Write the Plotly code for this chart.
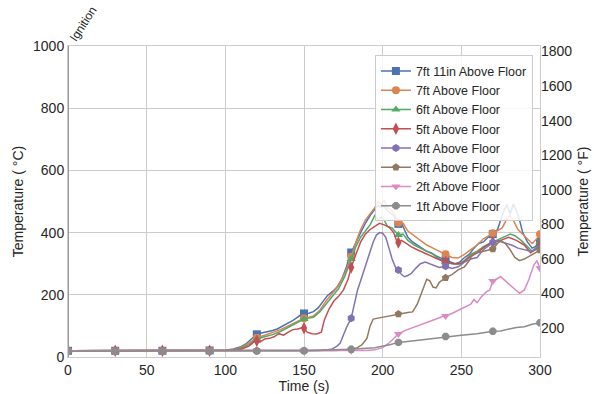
import plotly.graph_objects as go

# ---- data (time in s, temperature in °C) ----
names = ["7ft 11in Above Floor", "7ft Above Floor", "6ft Above Floor", "5ft Above Floor",
         "4ft Above Floor", "3ft Above Floor", "2ft Above Floor", "1ft Above Floor"]

t_7ft11 = [0, 30, 60, 90, 100, 105, 110, 113, 116, 118, 120, 123, 126, 130, 133, 136, 140, 143, 146, 148, 150,
           153, 156, 159, 162, 165, 168, 171, 174, 177, 179, 180, 183, 186, 189, 192, 195, 197, 199, 201, 203,
           205, 207, 209, 210, 212, 214, 216, 219, 222, 225, 228, 231, 234, 237, 240, 243, 246, 249, 252, 255,
           258, 261, 264, 267, 270, 273, 275, 277, 279, 281, 283, 285, 287, 289, 292, 295, 297, 300]
T_7ft11 = [20, 20, 20, 21, 22, 26, 33, 42, 55, 66, 73, 77, 80, 85, 90, 98, 108, 118, 128, 136, 140,
           141, 146, 158, 178, 198, 210, 225, 250, 290, 325, 336, 370, 400, 430, 455, 475, 488, 480, 485, 470,
           462, 455, 432, 428, 430, 410, 385, 370, 360, 350, 340, 335, 325, 318, 312, 305, 300, 305, 320, 330,
           350, 365, 370, 385, 395, 410, 440, 470, 490, 460, 492, 470, 440, 400, 370, 350, 355, 370]

t_7ft = [0, 30, 60, 90, 100, 105, 110, 115, 118, 120, 125, 130, 135, 140, 145, 150, 153, 156, 160, 164, 168,
         172, 176, 179, 180, 183, 186, 189, 192, 195, 197, 199, 201, 203, 206, 209, 210, 213, 216, 220, 224,
         228, 232, 236, 240, 244, 248, 252, 256, 260, 264, 268, 270, 273, 276, 279, 281, 283, 286, 289, 292,
         295, 298, 300]
T_7ft = [20, 20, 20, 21, 22, 24, 30, 45, 55, 62, 70, 78, 88, 100, 112, 125, 128, 132, 150, 180, 205,
         230, 270, 310, 322, 370, 410, 440, 460, 480, 500, 490, 505, 480, 470, 445, 432, 430, 405, 390, 375,
         360, 350, 340, 330, 320, 318, 330, 345, 360, 380, 392, 398, 405, 415, 445, 455, 440, 410, 395, 380,
         365, 380, 395]

t_6ft = [0, 30, 60, 90, 100, 105, 110, 115, 120, 125, 130, 135, 140, 145, 150, 153, 156, 160, 164, 168, 172,
         176, 179, 180, 183, 186, 189, 192, 195, 197, 199, 201, 203, 206, 209, 210, 213, 216, 220, 224, 228,
         232, 236, 240, 244, 248, 252, 256, 260, 264, 268, 270, 274, 278, 281, 284, 288, 292, 295, 298, 300]
T_6ft = [20, 20, 20, 21, 22, 23, 28, 40, 58, 65, 72, 82, 95, 110, 122, 125, 128, 145, 170, 195, 220,
         260, 300, 315, 355, 385, 405, 425, 455, 440, 450, 440, 420, 415, 398, 392, 395, 375, 360, 350, 340,
         330, 315, 305, 300, 298, 310, 330, 340, 355, 365, 370, 380, 390, 395, 390, 375, 355, 340, 355, 370]

t_5ft = [0, 30, 60, 90, 100, 105, 110, 115, 118, 120, 122, 125, 128, 131, 134, 137, 140, 143, 146, 149, 150,
         152, 155, 158, 161, 163, 166, 169, 172, 175, 178, 180, 183, 186, 189, 192, 195, 198, 201, 204, 207,
         209, 210, 212, 215, 218, 222, 226, 230, 235, 240, 245, 250, 255, 260, 265, 270, 275, 280, 285, 290,
         294, 297, 300]
T_5ft = [20, 20, 20, 20, 21, 22, 25, 35, 48, 52, 48, 58, 60, 65, 75, 70, 80, 88, 90, 95, 93,
         80, 75, 74, 80, 120, 155, 180, 195, 215, 250, 288, 330, 370, 395, 410, 420, 430, 425, 418, 400,
         372, 368, 375, 365, 355, 345, 335, 325, 315, 305, 300, 300, 320, 335, 355, 370, 375, 385, 375, 360,
         335, 345, 360]

t_4ft = [0, 30, 60, 90, 120, 150, 160, 165, 168, 171, 173, 175, 177, 180, 182, 184, 186, 188, 190, 192, 194,
         196, 198, 200, 202, 204, 206, 208, 210, 212, 214, 216, 218, 221, 224, 227, 230, 233, 236, 240, 244,
         248, 252, 256, 260, 264, 268, 270, 274, 278, 282, 286, 290, 294, 297, 300]
T_4ft = [20, 20, 20, 20, 20, 20, 21, 23, 26, 35, 45, 70, 95, 125, 170, 215, 245, 275, 312, 340, 370,
         392, 400, 398, 385, 350, 315, 290, 280, 265, 258, 262, 268, 285, 300, 305, 300, 295, 288, 292, 285,
         290, 305, 315, 320, 345, 360, 368, 372, 365, 360, 350, 345, 340, 345, 350]

t_3ft = [0, 30, 60, 90, 120, 150, 170, 180, 184, 187, 190, 192, 194, 197, 200, 203, 206, 210, 213, 216, 219,
         222, 225, 228, 230, 232, 234, 236, 240, 244, 248, 252, 255, 257, 260, 263, 266, 270, 273, 275, 278,
         281, 284, 287, 290, 294, 297, 300]
T_3ft = [20, 20, 20, 20, 20, 20, 21, 24, 30, 40, 60, 100, 122, 125, 128, 132, 135, 138, 140, 143, 145,
         170, 210, 250, 245, 225, 222, 240, 255, 265, 280, 290, 310, 330, 335, 338, 342, 347, 365, 375, 365,
         345, 320, 310, 315, 325, 335, 344]

t_2ft = [0, 30, 60, 90, 120, 150, 180, 190, 195, 200, 204, 207, 210, 214, 218, 222, 226, 230, 234, 238, 240,
         244, 248, 252, 256, 258, 260, 263, 266, 268, 270, 272, 275, 278, 281, 284, 287, 290, 293, 296, 298,
         300]
T_2ft = [20, 20, 20, 20, 20, 20, 20, 21, 23, 30, 45, 60, 74, 85, 92, 100, 108, 115, 122, 130, 132,
         140, 150, 160, 170, 185, 175, 195, 210, 215, 244, 250, 258, 245, 230, 218, 205, 215, 250, 295, 310,
         285]

t_1ft = [0, 30, 60, 90, 120, 150, 180, 195, 205, 210, 220, 230, 240, 250, 260, 270, 275, 280, 285, 290, 295,
         300]
T_1ft = [19, 19, 19, 19, 19, 20, 25, 30, 40, 47, 52, 58, 66, 70, 75, 83, 84, 90, 95, 97, 105, 110]

times = [t_7ft11, t_7ft, t_6ft, t_5ft, t_4ft, t_3ft, t_2ft, t_1ft]
temps = [T_7ft11, T_7ft, T_6ft, T_5ft, T_4ft, T_3ft, T_2ft, T_1ft]

marker_times = [0, 30, 60, 90, 120, 150, 180, 210, 240, 270, 300]
x_ticks = [0, 50, 100, 150, 200, 250, 300]
yC_ticks = [0, 200, 400, 600, 800, 1000]
yF_ticks = [200, 400, 600, 800, 1000, 1200, 1400, 1600, 1800]

# ---- styles ----
colors = ["#4C72B0", "#DD8452", "#55A868", "#C44E52", "#8172B3", "#937860", "#DA8BC3", "#8C8C8C"]
symbols = ["square", "circle", "triangle-up", "diamond-tall", "hexagon", "pentagon", "triangle-down", "octagon"]
msizes = [8, 8, 8, 9, 8, 8, 8, 8]
FONT = "Liberation Sans, Arial, sans-serif"

fig = go.Figure()
for name, t, T, c, s, ms in zip(names, times, temps, colors, symbols, msizes):
    fig.add_trace(go.Scatter(x=t, y=T, mode="lines", line=dict(color=c, width=1.5),
                             showlegend=False, hoverinfo="skip"))
    mt = [ti for ti in t if ti in marker_times]
    mT = [Ti for ti, Ti in zip(t, T) if ti in marker_times]
    fig.add_trace(go.Scatter(x=mt, y=mT, mode="markers", showlegend=False,
                             marker=dict(color=c, symbol=s, size=ms, line=dict(width=0))))
    fig.add_trace(go.Scatter(x=[None], y=[None], mode="lines+markers", name=name,
                             line=dict(color=c, width=1.5),
                             marker=dict(color=c, symbol=s, size=ms, line=dict(width=0))))

# invisible trace on the Fahrenheit axis so it is drawn
fig.add_trace(go.Scatter(x=t_7ft11, y=[v * 9 / 5 + 32 for v in T_7ft11], yaxis="y2", mode="lines",
                         line=dict(width=0), opacity=0, showlegend=False, hoverinfo="skip"))

# ignition line
fig.add_shape(type="line", xref="x", yref="paper", x0=0, x1=0, y0=0, y1=1,
              line=dict(color="#999999", width=2))
fig.add_annotation(x=0, y=1, xref="x", yref="paper", text="Ignition", textangle=-57,
                   showarrow=False, xanchor="left", yanchor="bottom", xshift=-4, yshift=-1,
                   font=dict(size=12, color="#262626", family=FONT))

fig.update_layout(
    width=594, height=394,
    margin=dict(l=68, r=54, t=46, b=37, autoexpand=False),
    paper_bgcolor="white", plot_bgcolor="white",
    font=dict(family=FONT, color="#262626", size=14),
    xaxis=dict(range=[0, 300], tickvals=x_ticks, showgrid=True, gridcolor="#cccccc", gridwidth=1,
               zeroline=False, showline=True, linecolor="#cccccc", linewidth=1, mirror=True,
               ticks="", tickfont=dict(size=14), automargin=False,
               title=dict(text="Time (s)", font=dict(size=14), standoff=2)),
    yaxis=dict(range=[0, 1000], tickvals=yC_ticks, showgrid=True, gridcolor="#cccccc", gridwidth=1,
               zeroline=False, showline=True, linecolor="#cccccc", linewidth=1, mirror=True,
               ticks="", tickfont=dict(size=14), automargin=False,
               title=dict(text="Temperature ( °C)", font=dict(size=14), standoff=6)),
    yaxis2=dict(range=[32, 1832], tickvals=yF_ticks, overlaying="y", side="right", showgrid=False,
                zeroline=False, showline=False, ticks="", tickfont=dict(size=14), automargin=False,
                title=dict(text="Temperature ( °F)", font=dict(size=14), standoff=6)),
    legend=dict(x=0.985, xanchor="right", y=0.97, yanchor="top", bgcolor="rgba(255,255,255,0.85)",
                bordercolor="#cccccc", borderwidth=1, font=dict(size=12.5, family=FONT),
                tracegroupgap=0, itemwidth=30),
    showlegend=True,
)

fig.write_html("out.html")
